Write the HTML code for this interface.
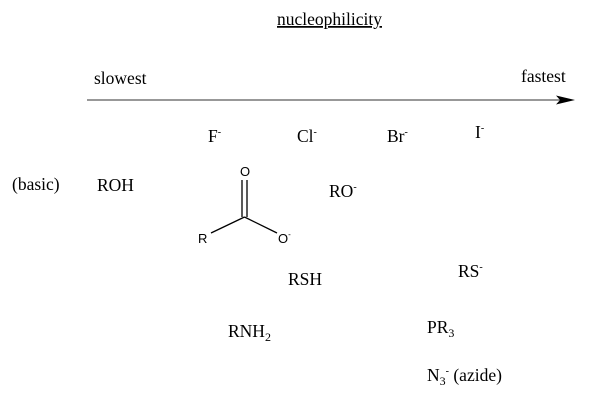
<!DOCTYPE html>
<html><head><style>body{margin:0;background:#fff}</style></head><body>
<svg width="605" height="414" xmlns="http://www.w3.org/2000/svg" font-family="Liberation Serif, serif" font-size="17.5" fill="#000">
<text x="277" y="25" text-decoration="underline">nucleophilicity</text>
<text x="94" y="84">slowest</text>
<text x="521" y="82">fastest</text>
<line x1="87" y1="100" x2="560" y2="100" stroke="#777" stroke-width="1.5"/>
<polygon points="556,95.5 575,100 556,104.5 560,100" fill="#000"/>
<text x="208" y="142">F<tspan font-size="10" dy="-7">-</tspan></text>
<text x="297" y="142">Cl<tspan font-size="10" dy="-7">-</tspan></text>
<text x="387" y="142">Br<tspan font-size="10" dy="-7">-</tspan></text>
<text x="475" y="138">I<tspan font-size="10" dy="-7">-</tspan></text>
<text x="12" y="190">(basic)</text>
<text x="97" y="191">ROH</text>
<text x="329" y="197">RO<tspan font-size="10" dy="-7">-</tspan></text>
<g font-family="Liberation Sans, sans-serif" font-size="13">
<text x="240" y="176">O</text>
<text x="198" y="243">R</text>
<text x="278" y="243">O<tspan font-size="8" dy="-6">-</tspan></text>
</g>
<g stroke="#000" stroke-width="1.3">
<line x1="242" y1="180" x2="242" y2="217"/>
<line x1="247" y1="180" x2="247" y2="217"/>
<line x1="244.5" y1="217" x2="211" y2="233"/>
<line x1="244.5" y1="217" x2="277" y2="233"/>
</g>
<text x="458" y="277">RS<tspan font-size="10" dy="-7">-</tspan></text>
<text x="288" y="285">RSH</text>
<text x="228" y="337">RNH<tspan font-size="12" dy="4">2</tspan></text>
<text x="427" y="333">PR<tspan font-size="12" dy="4">3</tspan></text>
<text x="427" y="381">N<tspan font-size="12" dy="4">3</tspan><tspan font-size="10" dy="-11">-</tspan><tspan dy="7"> (azide)</tspan></text>
</svg>
</body></html>
